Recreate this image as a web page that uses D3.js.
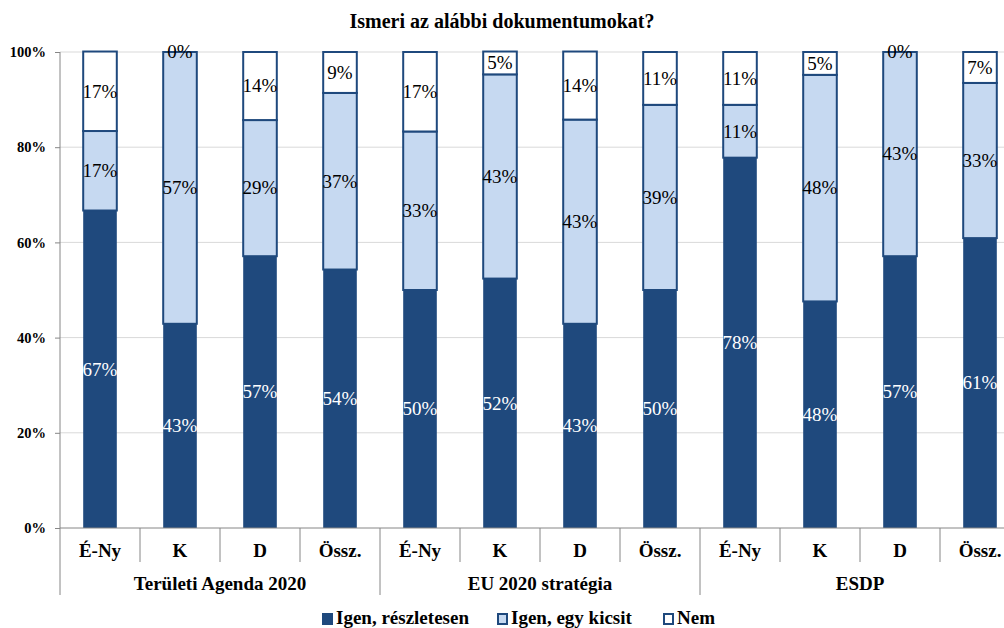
<!DOCTYPE html>
<html>
<head>
<meta charset="utf-8">
<script src="https://cdn.jsdelivr.net/npm/d3@7"></script>
<style>
  body { margin: 0; background: #fff; }
</style>
</head>
<body>
<svg id="chart" width="1004" height="628"></svg>
<script>
// categories
const groups = ["Területi Agenda 2020", "EU 2020 stratégia", "ESDP"];
const regions = ["É-Ny", "K", "D", "Össz."];
const seriesNames = ["Igen, részletesen", "Igen, egy kicsit", "Nem"];

// percent values per bar (group x region order)
const igenReszletesen = [66.7, 42.9, 57.1, 54.3, 50.0, 52.4, 42.9, 50.0, 77.8, 47.6, 57.1, 60.9];
const igenKicsit      = [16.7, 57.1, 28.6, 37.1, 33.3, 42.9, 42.9, 38.9, 11.1, 47.6, 42.9, 32.6];
const nem             = [16.7,  0.0, 14.3,  8.6, 16.7,  4.8, 14.3, 11.1, 11.1,  4.8,  0.0,  6.5];

const yTicks = [0, 20, 40, 60, 80, 100];

const FONT = '"Liberation Serif", "Times New Roman", serif';
const svg = d3.select('#chart').attr('font-family', FONT);
const margin = { top: 52, left: 60 };
const innerHeight = 476;
const band = 80;

const bars = [];
groups.forEach((g, gi) => {
    regions.forEach((r, ri) => {
        const i = gi * regions.length + ri;
        bars.push({ key: i, group: g, region: r,
            values: [igenReszletesen[i], igenKicsit[i], nem[i]] });
    });
});

const x = d3.scaleBand()
    .domain(bars.map(d => d.key))
    .range([margin.left, margin.left + band * bars.length])
    .paddingInner(0.58)
    .paddingOuter(0.29);

const y = d3.scaleLinear()
    .domain([0, 100])
    .range([margin.top + innerHeight, margin.top]);

const fills = ['#1F497D', '#C6D9F1', '#FFFFFF'];
const labelColors = ['#FFFFFF', '#000000', '#000000'];

// title
svg.append('text')
    .attr('x', 502).attr('y', 28)
    .attr('text-anchor', 'middle')
    .attr('font-size', 20).attr('font-weight', 'bold')
    .text('Ismeri az alábbi dokumentumokat?');

// gridlines
svg.append('g')
    .selectAll('line')
    .data(yTicks.filter(t => t > 0))
    .join('line')
    .attr('x1', margin.left).attr('x2', 1004)
    .attr('y1', d => y(d)).attr('y2', d => y(d))
    .attr('stroke', '#D9D9D9').attr('stroke-width', 1);

// y axis
const yAxis = svg.append('g')
    .attr('transform', `translate(${margin.left},0)`)
    .call(d3.axisLeft(y).tickValues(yTicks).tickSize(5).tickPadding(9).tickFormat(d => d + '%'))
    .attr('font-family', FONT);
yAxis.select('.domain').remove();
yAxis.selectAll('line').attr('stroke', '#868686');
yAxis.selectAll('text')
    .attr('font-size', 14.5).attr('font-weight', 'bold')
    .attr('fill', '#000');

// stacked bars
const stack = d3.stack()
    .keys([0, 1, 2])
    .value((d, k) => d.values[k]);
const layers = stack(bars);

const barG = svg.append('g');
layers.forEach((layer, li) => {
    barG.append('g')
        .selectAll('rect')
        .data(layer)
        .join('rect')
        .attr('x', d => x(d.data.key))
        .attr('width', x.bandwidth())
        .attr('y', d => y(d[1]))
        .attr('height', d => y(d[0]) - y(d[1]))
        .attr('fill', fills[li])
        .attr('stroke', li === 0 ? 'none' : '#1F497D')
        .attr('stroke-width', li === 0 ? 0 : 2);
});

// value labels
layers.forEach((layer, li) => {
    barG.append('g')
        .selectAll('text')
        .data(layer)
        .join('text')
        .attr('x', d => x(d.data.key) + x.bandwidth() / 2)
        .attr('y', d => y((d[0] + d[1]) / 2))
        .attr('dy', '0.33em')
        .attr('text-anchor', 'middle')
        .attr('font-size', 19)
        .attr('fill', labelColors[li])
        .text(d => Math.round(d.data.values[li]) + '%');
});

// x axis baseline and separators
const base = y(0);
svg.append('line')
    .attr('x1', margin.left).attr('x2', 1004)
    .attr('y1', base).attr('y2', base)
    .attr('stroke', '#868686');
svg.append('line')
    .attr('x1', margin.left).attr('x2', margin.left)
    .attr('y1', margin.top).attr('y2', base + 67)
    .attr('stroke', '#868686');

const sepG = svg.append('g');
bars.forEach((d, i) => {
    if (i === 0) return;
    const xs = margin.left + band * i;
    const groupEdge = i % regions.length === 0;
    sepG.append('line')
        .attr('x1', xs).attr('x2', xs)
        .attr('y1', base).attr('y2', base + (groupEdge ? 67 : 34))
        .attr('stroke', '#868686');
});

// region labels
svg.append('g')
    .selectAll('text')
    .data(bars)
    .join('text')
    .attr('x', d => x(d.key) + x.bandwidth() / 2)
    .attr('y', base + 29)
    .attr('text-anchor', 'middle')
    .attr('font-size', 19).attr('font-weight', 'bold')
    .text(d => d.region);

// group labels
svg.append('g')
    .selectAll('text')
    .data(groups)
    .join('text')
    .attr('x', (d, i) => margin.left + band * regions.length * (i + 0.5))
    .attr('y', base + 62)
    .attr('text-anchor', 'middle')
    .attr('font-size', 19).attr('font-weight', 'bold')
    .text(d => d);

// legend
const legendX = [322, 497, 663];
const legend = svg.append('g');
seriesNames.forEach((name, i) => {
    legend.append('rect')
        .attr('x', legendX[i] + 1).attr('y', 614)
        .attr('width', 9).attr('height', 10)
        .attr('fill', fills[i])
        .attr('stroke', '#1F497D').attr('stroke-width', 2);
    legend.append('text')
        .attr('x', legendX[i] + 14).attr('y', 624)
        .attr('font-size', 19).attr('font-weight', 'bold')
        .text(name);
});
</script>
</body>
</html>
